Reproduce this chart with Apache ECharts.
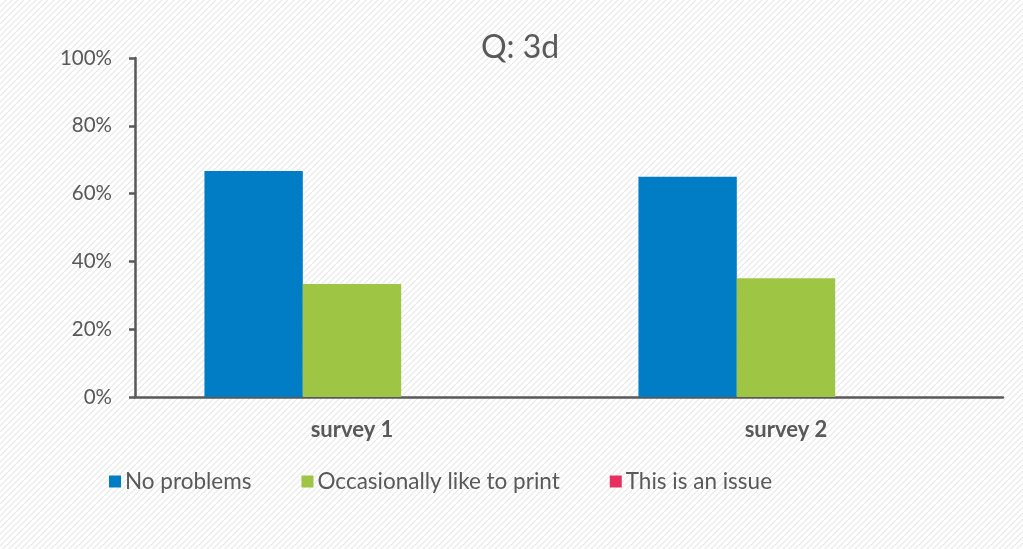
<!DOCTYPE html>
<html><head><meta charset="utf-8">
<script src="https://cdn.jsdelivr.net/npm/echarts@6/dist/echarts.min.js"></script>
<style>html,body{margin:0;padding:0;background:#fff}#c{width:1023px;height:549px}</style>
</head><body><div id="c"></div>
<script>
const categories = ['survey 1', 'survey 2'];
const seriesNames = ['No problems', 'Occasionally like to print', 'This is an issue'];
const noProblems = [66.7, 65];
const occasionally = [33.3, 35];
const isIssue = [0, 0];
const yTicks = [0, 20, 40, 60, 80, 100];

const pat = document.createElement('canvas');
pat.width = 6; pat.height = 6;
const px = pat.getContext('2d');
px.fillStyle = '#ffffff'; px.fillRect(0,0,6,6);
px.strokeStyle = '#e8e8e8'; px.lineWidth = 1.2;
px.beginPath();
px.moveTo(-1,7); px.lineTo(7,-1);
px.moveTo(-4,4); px.lineTo(4,-4);
px.moveTo(2,10); px.lineTo(10,2);
px.stroke();

const colors = ['#007DC5', '#9FC544', '#E8305F'];
const font = 'Lato, "Open Sans", sans-serif';
const chart = echarts.init(document.getElementById('c'));
chart.setOption({
  backgroundColor: {image: pat, repeat: 'repeat'},
  color: colors,
  textStyle: {fontFamily: font},
  title: {text: 'Q: 3d', left: 481, top: 32, itemGap: 0, padding: 0, textStyle: {fontFamily: font, fontSize: 32, fontWeight: 'normal', color: '#595959'}},
  legend: {
    data: seriesNames, left: 104, top: 465, itemWidth: 12, itemHeight: 12, itemGap: 50,
    icon: 'rect',
    textStyle: {fontFamily: font, fontSize: 22.5, color: '#595959', padding: [0,0,0,-1]}
  },
  grid: {left: 135, right: 20, top: 58, bottom: 152},
  xAxis: {
    type: 'category', data: categories,
    axisLine: {lineStyle: {color: '#595959', width: 2.5}},
    axisTick: {show: false},
    axisLabel: {fontFamily: font, fontSize: 22, fontWeight: 'bold', color: '#595959', margin: 22}
  },
  yAxis: {
    type: 'value', min: yTicks[0], max: yTicks[yTicks.length-1], interval: 20,
    splitLine: {show: false},
    axisLine: {show: true, lineStyle: {color: '#595959', width: 2.5}},
    axisTick: {show: true, length: 6, lineStyle: {color: '#595959', width: 2.5}},
    axisLabel: {fontFamily: font, fontSize: 20.5, color: '#595959', margin: 23, formatter: v => v + '%'}
  },
  series: [
    {name: seriesNames[0], type: 'bar', data: noProblems, barGap: '0%', barCategoryGap: '32%'},
    {name: seriesNames[1], type: 'bar', data: occasionally, barGap: '0%', barCategoryGap: '32%'},
    {name: seriesNames[2], type: 'bar', data: isIssue, barGap: '0%', barCategoryGap: '32%'}
  ]
});
</script></body></html>
